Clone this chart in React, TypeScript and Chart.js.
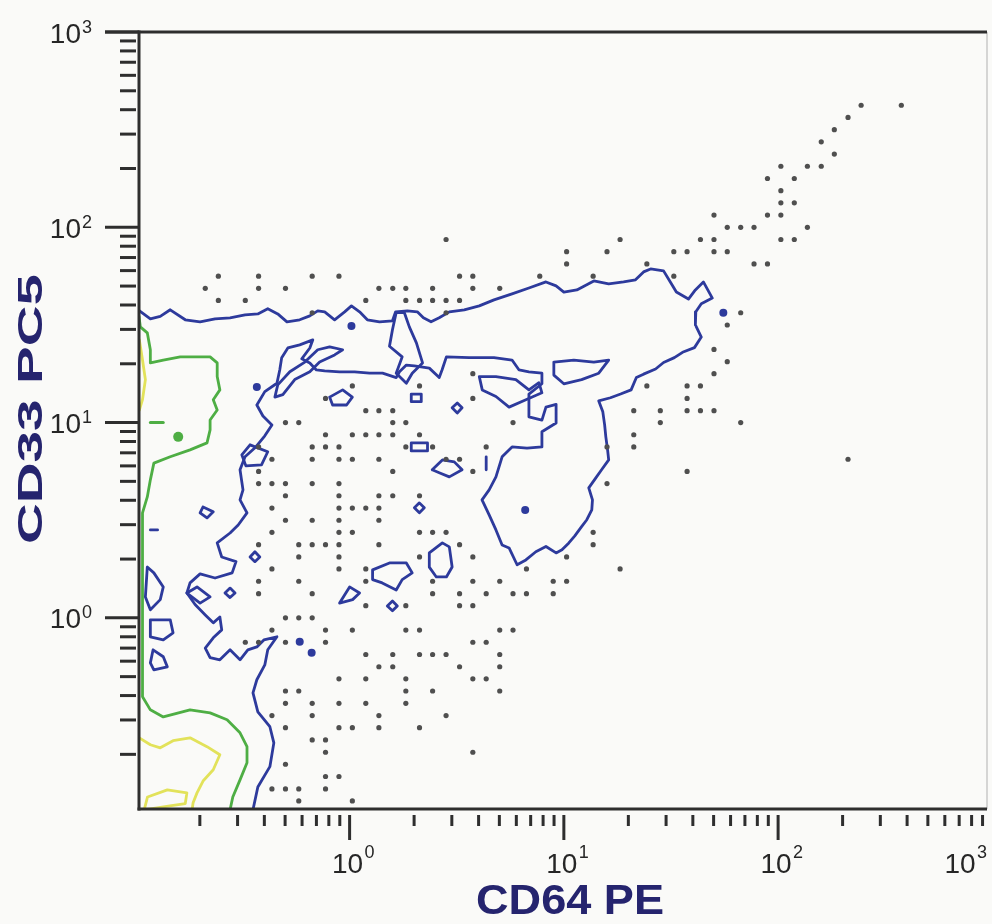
import React, { useEffect, useRef } from 'react';
import { Chart, registerables } from 'chart.js';

Chart.register(...registerables);

// ---------- axes ----------
const X_MIN = 0.104;
const X_MAX = 944;
const Y_MIN = 0.105;
const Y_MAX = 1000;
const decadeValues = [1, 10, 100, 1000];
const decadeExponents = ['0', '1', '2', '3'];
const minorDecades = [0.1, 1, 10, 100];
const minorMultipliers = [2, 3, 4, 5, 6, 7, 8, 9];
const xAxisTitle = 'CD64 PE';
const yAxisTitle = 'CD33 PC5';

// ---------- outlier events (rows of equal CD33 value) ----------
const eventRowY = [
  421.7, 365.2, 316.2, 273.8, 237.1, 205.4, 177.8, 154, 133.4, 115.5, 100, 86.6, 75.0, 64.9,
  56.2, 48.7, 42.2, 36.5, 31.6, 23.7, 20.5, 17.8, 15.4, 13.3, 11.5, 10.0, 8.66, 7.5, 6.49,
  5.62, 4.87, 4.22, 3.65, 3.16, 2.74, 2.37, 2.05, 1.78, 1.54, 1.33, 1.155, 1.0, 0.866, 0.75,
  0.649, 0.562, 0.487, 0.422, 0.365, 0.316, 0.274, 0.237, 0.205, 0.178, 0.154, 0.133, 0.1155,
];
const eventRowX: number[][] = [
  [244, 376],
  [212],
  [183],
  [159],
  [183],
  [103, 137, 159],
  [89.2, 119],
  [103],
  [103, 119],
  [50.2, 89.2, 103],
  [57.9, 66.9, 77.2, 137],
  [2.82, 18.3, 43.4, 50.2, 103, 119],
  [10.3, 15.9, 32.6, 37.6, 50.2, 57.9],
  [10.3, 24.4, 77.2, 89.2],
  [0.244, 0.376, 0.669, 0.892, 3.26, 3.76, 7.72, 13.7, 32.6],
  [0.212, 0.376, 0.502, 1.37, 1.59, 1.83, 2.44, 3.76, 5.02],
  [0.244, 0.326, 1.19, 1.83, 2.12, 2.44, 2.82, 3.26],
  [0.669, 2.82, 66.9],
  [57.9],
  [50.2],
  [57.9],
  [3.76, 50.2],
  [1.03, 2.12, 24.4, 37.6, 43.4],
  [0.772, 3.76, 37.6],
  [1.19, 1.37, 1.59, 21.2, 28.2, 37.6, 43.4, 50.2],
  [0.502, 0.579, 1.59, 1.83, 5.79, 28.2, 66.9],
  [0.772, 1.03, 1.19, 1.37, 1.59, 2.12, 21.2],
  [0.376, 0.669, 0.772, 0.892, 1.83, 2.44, 4.34, 15.9, 21.2],
  [0.434, 0.669, 0.892, 1.03, 1.37, 2.82, 3.26, 212],
  [0.376, 1.59, 3.76, 37.6],
  [0.376, 0.434, 0.502, 0.669, 0.892, 15.9],
  [0.502, 0.892, 1.37, 1.59, 2.12],
  [0.434, 0.892, 1.03, 1.19, 1.37],
  [0.502, 0.669, 0.892, 1.37],
  [0.434, 0.892, 1.03, 2.12, 2.44, 2.82, 13.7],
  [0.376, 0.579, 0.669, 0.772, 0.892, 1.37, 3.26, 13.7],
  [0.579, 0.892, 2.12, 3.76, 10.3],
  [0.434, 0.892, 1.19, 6.69, 18.3],
  [0.376, 0.579, 1.19, 2.44, 3.76, 5.02, 8.92, 10.3],
  [0.376, 0.669, 2.44, 3.26, 4.34, 5.79, 6.69, 8.92],
  [1.19, 1.83, 3.26, 3.76],
  [0.502, 0.579, 0.669],
  [0.434, 0.772, 1.03, 1.83, 2.12, 5.02, 5.79],
  [0.326, 0.376, 0.502, 0.772, 3.76, 4.34],
  [1.19, 1.59, 2.12, 2.44, 2.82, 5.02],
  [1.37, 1.59, 3.26, 5.02],
  [0.892, 1.19, 1.83, 3.76, 4.34],
  [0.502, 0.579, 1.83, 2.44, 5.02],
  [0.502, 0.669, 0.892, 1.19, 1.83],
  [0.434, 0.669, 1.37, 2.82],
  [0.502, 0.892, 1.03, 1.37, 2.12],
  [0.669, 0.772],
  [0.772, 3.76],
  [0.502],
  [0.772, 0.892],
  [0.434, 0.502, 0.579, 0.772],
  [0.579, 1.03],
];

// ---------- contours (x = CD64, y = CD33) ----------
const blueOuter: [number, number][] = [
  [0.103, 37.8], [0.1175, 34.0], [0.1307, 35.0], [0.1455, 37.8], [0.171, 33.6], [0.2005, 32.8],
  [0.2355, 34.0], [0.2767, 34.4], [0.325, 35.6], [0.373, 36.0], [0.415, 38.3], [0.462, 36.0],
  [0.51, 32.8], [0.585, 33.6], [0.652, 35.2], [0.71, 37.3], [0.765, 36.9], [0.851, 33.6],
  [0.948, 36.9], [1.02, 39.6], [1.113, 36.9], [1.21, 33.6], [1.38, 32.8], [1.585, 33.2],
  [1.64, 36.9], [1.86, 37.3], [2.07, 36.9], [2.21, 34.4], [2.4, 32.8], [2.62, 34.4],
  [2.92, 36.9], [3.43, 37.8], [4.03, 39.6], [4.72, 42.5], [5.73, 45.6], [6.87, 48.9],
  [8.25, 52.5], [9.2, 50.1], [10.0, 46.6], [11.5, 47.8], [13.8, 53.1], [16.19, 51.3],
  [19.0, 52.5], [21.6, 53.8], [23.55, 59.1], [25.4, 61.2], [29.2, 59.8], [31.4, 52.5],
  [33.5, 46.6], [38.15, 42.9], [41.1, 47.8], [44.8, 52.5], [49.3, 43.4], [43.8, 40.6],
  [41.3, 36.9], [41.1, 31.6], [43.8, 27.4], [40.7, 24.2], [35.8, 22.9], [32.8, 21.5],
  [29.2, 20.3], [26.8, 18.8], [23.55, 17.7], [21.8, 17.0], [20.6, 14.7], [18.4, 14.0],
  [16.5, 13.4], [14.55, 12.9], [15.2, 11.35], [15.5, 9.73], [15.7, 8.45], [16.0, 7.25],
  [16.19, 6.44], [15.0, 5.73], [14.1, 5.21], [13.07, 4.63], [13.6, 4.02], [13.5, 3.57],
  [12.8, 3.18], [12.1, 2.93], [11.25, 2.63], [10.55, 2.42], [9.8, 2.23], [9.2, 2.15],
  [8.25, 2.32], [7.4, 2.18], [6.65, 1.98], [6.05, 1.87], [5.55, 2.28], [5.15, 2.36],
  [4.82, 2.82], [4.48, 3.37], [4.15, 4.02], [4.48, 4.52], [4.82, 5.27], [5.15, 6.68],
  [5.73, 7.5], [6.73, 7.4], [7.9, 7.5], [7.9, 8.97], [9.2, 9.95], [9.2, 12.4], [8.25, 12.0],
  [7.9, 10.3], [6.87, 10.7], [6.87, 14.0], [7.9, 15.8], [7.9, 17.9], [6.87, 18.2],
  [6.18, 18.6], [5.73, 20.9], [4.72, 21.5], [3.61, 21.5], [2.83, 21.7], [2.7, 18.6],
  [2.62, 17.0], [2.355, 19.0], [2.006, 19.5], [1.84, 19.7], [1.709, 18.2], [1.65, 17.0],
  [1.425, 17.9], [1.239, 17.9], [1.055, 18.2], [0.898, 18.2], [0.765, 18.4], [0.7, 18.6],
  [0.652, 20.2], [0.598, 21.2], [0.652, 24.1], [0.673, 26.5], [0.585, 25.0], [0.515, 24.1],
  [0.482, 21.5], [0.472, 18.6], [0.458, 15.9], [0.402, 14.4], [0.369, 12.3], [0.394, 10.8],
  [0.434, 9.73], [0.402, 8.55], [0.365, 7.5], [0.325, 6.68], [0.308, 5.73], [0.318, 4.52],
  [0.308, 4.02], [0.332, 3.45], [0.302, 2.99], [0.2767, 2.72], [0.241, 2.42], [0.253, 2.05],
  [0.295, 1.94], [0.283, 1.7], [0.2355, 1.6], [0.2005, 1.68], [0.18, 1.51], [0.174, 1.34],
  [0.19, 1.17], [0.212, 1.035], [0.231, 0.943], [0.248, 1.01], [0.253, 0.868], [0.231, 0.79],
  [0.212, 0.7], [0.2233, 0.625], [0.248, 0.61], [0.2767, 0.686], [0.308, 0.61], [0.335, 0.686],
  [0.369, 0.71], [0.398, 0.771], [0.458, 0.8], [0.415, 0.686], [0.402, 0.574], [0.369, 0.482],
  [0.354, 0.413], [0.373, 0.33], [0.4245, 0.277], [0.443, 0.229], [0.4245, 0.173],
  [0.373, 0.136], [0.354, 0.104],
];

const blueIslands: [number, number][][] = [
  [[1.65, 36.6], [1.585, 29.9], [1.535, 24.6], [1.76, 21.7], [1.65, 17.9], [1.84, 15.9], [1.96, 17.9], [2.19, 20.2], [2.05, 25.6], [1.9, 30.9], [1.8, 36.6]],
  [[4.03, 17.2], [4.82, 17.2], [5.97, 16.6], [6.87, 14.7], [7.65, 16.0], [7.9, 14.2], [6.65, 13.1], [5.55, 12.0], [4.82, 13.6], [4.16, 14.7]],
  [[8.98, 20.4], [11.13, 20.9], [13.8, 20.4], [16.19, 20.9], [14.55, 17.9], [12.1, 16.6], [10.0, 15.8], [8.98, 17.5]],
  [[0.807, 13.5], [0.928, 14.7], [1.03, 13.5], [0.968, 12.3], [0.833, 12.3]],
  [[1.94, 14.0], [2.16, 14.0], [2.16, 12.8], [1.94, 12.8]],
  [[3.01, 11.9], [3.18, 12.6], [3.35, 11.9], [3.18, 11.2]],
  [[1.94, 7.87], [2.31, 7.87], [2.31, 7.16], [1.94, 7.16]],
  [[2.43, 5.73], [2.71, 6.44], [3.08, 6.29], [3.35, 5.73], [2.92, 5.27], [2.62, 5.53]],
  [[4.34, 6.68], [4.34, 5.73]],
  [[0.343, 7.69], [0.415, 7.09], [0.388, 6.07], [0.328, 6.0], [0.314, 6.84]],
  [[0.207, 3.7], [0.231, 3.49], [0.216, 3.25], [0.2005, 3.45]],
  [[0.1175, 2.82], [0.127, 2.82]],
  [[0.343, 2.05], [0.3615, 2.18], [0.381, 2.05], [0.3615, 1.94]],
  [[0.262, 1.34], [0.2767, 1.42], [0.292, 1.34], [0.2767, 1.27]],
  [[0.174, 1.34], [0.194, 1.44], [0.2233, 1.28], [0.2005, 1.19]],
  [[0.1137, 1.82], [0.122, 1.7], [0.135, 1.44], [0.1307, 1.24], [0.1175, 1.1], [0.1114, 1.28]],
  [[0.1175, 0.977], [0.1455, 0.977], [0.15, 0.838], [0.135, 0.771], [0.1175, 0.8]],
  [[0.121, 0.686], [0.135, 0.632], [0.141, 0.561], [0.122, 0.542], [0.1175, 0.588]],
  [[0.898, 1.19], [1.0, 1.44], [1.113, 1.34], [1.033, 1.24]],
  [[1.28, 1.76], [1.535, 1.91], [1.84, 1.91], [1.96, 1.7], [1.76, 1.57], [1.65, 1.39], [1.42, 1.51], [1.28, 1.57]],
  [[1.5, 1.15], [1.585, 1.22], [1.67, 1.15], [1.585, 1.086]],
  [[2.355, 2.15], [2.71, 2.42], [2.92, 2.31], [3.01, 1.82], [2.83, 1.62], [2.54, 1.62], [2.355, 1.82]],
  [[2.006, 3.66], [2.117, 3.88], [2.232, 3.66], [2.117, 3.45]],
  [[0.488, 13.9], [0.5546, 16.6], [0.652, 18.2], [0.7245, 20.4], [0.851, 22.2], [0.928, 23.6], [0.807, 24.4], [0.71, 23.6], [0.618, 20.4], [0.526, 18.2], [0.462, 15.6], [0.448, 13.5]],
];

const blueSpots: [number, number][] = [
  [1.02, 31.2], [0.369, 15.2], [0.585, 0.754], [0.665, 0.662], [6.6, 3.57], [55.5, 36.5],
];

const greenOuter: [number, number][] = [
  [0.104, 35.0], [0.1055, 30.9], [0.1137, 28.8], [0.1175, 23.6], [0.1175, 20.2], [0.135, 20.9],
  [0.162, 21.7], [0.194, 21.7], [0.2233, 21.7], [0.241, 20.2], [0.241, 17.2], [0.248, 14.7],
  [0.231, 13.1], [0.241, 11.6], [0.2233, 10.3], [0.2233, 9.18], [0.216, 7.87], [0.18, 7.25],
  [0.1455, 6.68], [0.122, 6.2], [0.1175, 5.09], [0.1137, 4.16], [0.108, 3.45], [0.108, 1.57],
  [0.108, 0.71], [0.108, 0.394], [0.1175, 0.338], [0.135, 0.311], [0.18, 0.338], [0.2233, 0.326],
  [0.268, 0.301], [0.308, 0.258], [0.332, 0.219], [0.332, 0.181], [0.308, 0.148], [0.285, 0.121],
  [0.2767, 0.104],
];
const greenDash: [number, number][] = [[0.1175, 10.0], [0.135, 10.0]];
const greenSpots: [number, number][] = [[0.1585, 8.45]];

const yellowEdge: [number, number][] = [
  [0.1044, 26.5], [0.108, 20.9], [0.1114, 16.6], [0.108, 13.1], [0.1044, 11.6],
];
const yellowLower: [number, number][] = [
  [0.1044, 0.243], [0.1175, 0.224], [0.1307, 0.216], [0.15, 0.235], [0.18, 0.243], [0.216, 0.219],
  [0.248, 0.199], [0.231, 0.1667], [0.207, 0.146], [0.194, 0.127], [0.186, 0.113], [0.184, 0.104],
];
const yellowInner: [number, number][] = [
  [0.11, 0.104], [0.114, 0.121], [0.141, 0.1316], [0.174, 0.127], [0.171, 0.112], [0.145, 0.109],
];

// ---------- styles ----------
const PAGE_BG = '#fafaf8';
const BLUE = '#2d3a9c';
const GREEN = '#4eae44';
const YELLOW = '#e2e25a';
const DOT = '#4f4f4f';
const AXIS = '#2e2e2e';
const LABEL = '#262626';
const TITLE = '#25246e';
const FONT = '"Liberation Sans", Arial, Helvetica, sans-serif';

const toPts = (arr: [number, number][]) => arr.map(([x, y]) => ({ x, y }));
const closeLoop = (arr: [number, number][]) => (arr.length > 2 ? [...arr, arr[0]] : arr);

function lineSet(arr: [number, number][], color: string, width = 2.8) {
  return {
    data: toPts(arr),
    showLine: true,
    borderColor: color,
    borderWidth: width,
    pointRadius: 0,
    fill: false,
    tension: 0,
    borderJoinStyle: 'round' as const,
    borderCapStyle: 'round' as const,
  };
}

function spotSet(arr: [number, number][], color: string, r: number) {
  return {
    data: toPts(arr),
    showLine: false,
    pointRadius: r,
    pointBackgroundColor: color,
    pointBorderWidth: 0,
    borderColor: color,
  };
}

const framePlugin = {
  id: 'flowFrame',
  beforeDraw(chart: any) {
    const { ctx, width, height } = chart;
    ctx.save();
    ctx.fillStyle = PAGE_BG;
    ctx.fillRect(0, 0, width, height);
    ctx.restore();
  },
  afterDatasetsDraw(chart: any) {
    const { ctx, chartArea: a } = chart;
    const xs = chart.scales.x;
    const ys = chart.scales.y;
    const seg = (x1: number, y1: number, x2: number, y2: number) => {
      ctx.beginPath();
      ctx.moveTo(x1, y1);
      ctx.lineTo(x2, y2);
      ctx.stroke();
    };
    ctx.save();
    // right frame line
    ctx.strokeStyle = '#c9c9c9';
    ctx.lineWidth = 1.5;
    seg(a.right, a.top, a.right, a.bottom);
    // axes
    ctx.strokeStyle = AXIS;
    ctx.lineWidth = 3;
    seg(a.left, a.top - 1.5, a.left, a.bottom + 1.5);
    seg(a.left - 1.5, a.bottom, a.right, a.bottom);
    seg(a.left - 34, a.top, a.right, a.top);

    // minor ticks
    ctx.lineWidth = 3;
    for (const d of minorDecades) {
      for (const m of minorMultipliers) {
        const v = d * m;
        const py = ys.getPixelForValue(v);
        if (py >= a.top - 1 && py <= a.bottom + 1) seg(a.left - 19, py, a.left - 3, py);
        const px = xs.getPixelForValue(v);
        if (px >= a.left - 1 && px <= a.right + 1) seg(px, a.bottom + 6, px, a.bottom + 17);
      }
    }
    // major ticks
    for (const v of decadeValues) {
      const py = ys.getPixelForValue(v);
      if (py >= a.top - 1 && py <= a.bottom + 1) seg(a.left - 34, py, a.left, py);
      const px = xs.getPixelForValue(v);
      if (px >= a.left - 1 && px <= a.right + 1) seg(px, a.bottom + 6, px, a.bottom + 31);
    }

    // tick labels 10^n
    ctx.fillStyle = LABEL;
    ctx.textBaseline = 'alphabetic';
    decadeValues.forEach((v, idx) => {
      const exp = decadeExponents[idx];
      // y axis
      const py = ys.getPixelForValue(v);
      if (py >= a.top - 2 && py <= a.bottom + 2) {
        ctx.font = `28px ${FONT}`;
        ctx.textAlign = 'right';
        ctx.fillText('10', a.left - 58, py + 10.5);
        ctx.font = `18px ${FONT}`;
        ctx.textAlign = 'left';
        ctx.fillText(exp, a.left - 57, py + 0.5);
      }
      // x axis (last label kept inside the picture)
      const pxRaw = xs.getPixelForValue(v);
      if (pxRaw >= a.left && pxRaw <= a.right + 40) {
        const px = Math.min(pxRaw, a.right - 25);
        ctx.font = `28px ${FONT}`;
        ctx.textAlign = 'center';
        ctx.fillText('10', px - 2, a.bottom + 64);
        ctx.font = `18px ${FONT}`;
        ctx.textAlign = 'left';
        ctx.fillText(exp, px + 15, a.bottom + 49);
      }
    });

    // axis titles
    ctx.fillStyle = TITLE;
    ctx.font = `bold 42px ${FONT}`;
    ctx.textAlign = 'center';
    ctx.textBaseline = 'alphabetic';
    const wx = ctx.measureText(xAxisTitle).width;
    ctx.save();
    ctx.translate((a.left + a.right) / 2 + 7, a.bottom + 105);
    ctx.scale(188 / wx, 1);
    ctx.fillText(xAxisTitle, 0, 0);
    ctx.restore();

    ctx.font = `bold 35px ${FONT}`;
    const wy = ctx.measureText(yAxisTitle).width;
    ctx.save();
    ctx.translate(42, 409);
    ctx.rotate(-Math.PI / 2);
    ctx.scale(270 / wy, 1);
    ctx.fillText(yAxisTitle, 0, 0);
    ctx.restore();

    ctx.restore();
  },
};

export default function App() {
  const ref = useRef<HTMLCanvasElement | null>(null);

  useEffect(() => {
    if (!ref.current) return;
    const events: { x: number; y: number }[] = [];
    eventRowY.forEach((yv, r) => {
      (eventRowX[r] || []).forEach((xv) => events.push({ x: xv, y: yv }));
    });

    const datasets: any[] = [
      {
        data: events,
        showLine: false,
        pointRadius: 2.6,
        pointBackgroundColor: DOT,
        pointBorderWidth: 0,
        borderColor: DOT,
      },
      lineSet(yellowEdge, YELLOW),
      lineSet(yellowLower, YELLOW),
      lineSet(closeLoop(yellowInner), YELLOW),
      lineSet(greenOuter, GREEN),
      lineSet(greenDash, GREEN, 3),
      spotSet(greenSpots, GREEN, 5),
      lineSet(blueOuter, BLUE),
      ...blueIslands.map((isl) => lineSet(closeLoop(isl), BLUE)),
      spotSet(blueSpots, BLUE, 4),
    ];

    const chart = new Chart(ref.current, {
      type: 'scatter',
      data: { datasets },
      options: {
        animation: false,
        responsive: false,
        maintainAspectRatio: false,
        devicePixelRatio: 1,
        events: [],
        layout: { padding: { left: 139, top: 32, right: 2, bottom: 115 } },
        plugins: {
          legend: { display: false },
          tooltip: { enabled: false },
        },
        scales: {
          x: { type: 'logarithmic', min: X_MIN, max: X_MAX, display: false },
          y: { type: 'logarithmic', min: Y_MIN, max: Y_MAX, display: false },
        },
      },
      plugins: [framePlugin],
    } as any);
    return () => chart.destroy();
  }, []);

  return (
    <div style={{ position: 'absolute', left: 0, top: 0, width: 992, height: 924, background: PAGE_BG }}>
      <canvas ref={ref} width={992} height={924} style={{ display: 'block', width: 992, height: 924 }} />
    </div>
  );
}
